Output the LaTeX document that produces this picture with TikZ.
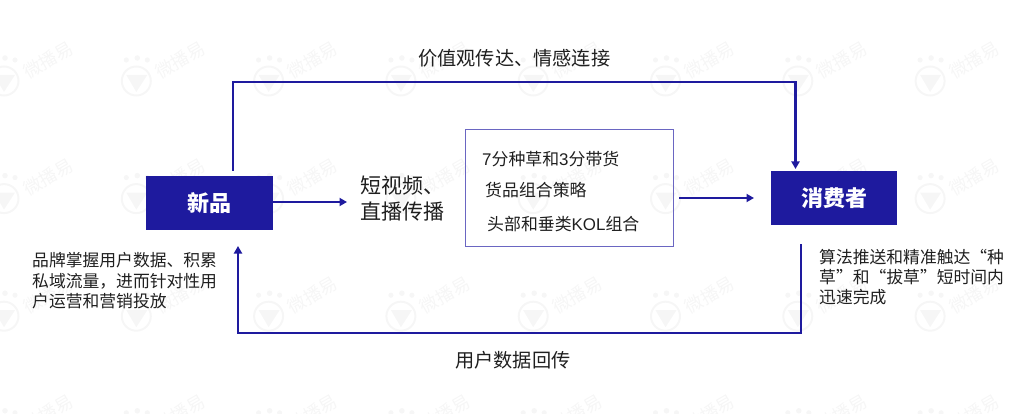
\documentclass[tikz,border=0pt]{standalone}
\usepackage{fontspec}
\setmainfont{Noto Sans CJK SC}
\newfontfamily\latinf{Liberation Sans}
\usetikzlibrary{arrows.meta}
\definecolor{navy}{HTML}{1E1A9E}
\definecolor{boxline}{HTML}{6A66C2}
\definecolor{wm}{HTML}{F6F6F6}
\tikzset{
  x=1pt,y=-1pt,
  fillbox/.style={fill=navy,text=white,font=\fontsize{22}{24}\selectfont\bfseries,inner sep=0pt,anchor=north west},
  flow/.style={draw=navy,line width=2.4pt,-{Triangle[length=7.5pt,width=8pt]}},
  lbl/.style={inner sep=0pt,text=black!88,anchor=west},
  big/.style={lbl,font=\fontsize{19.2}{23}\selectfont},
  small/.style={lbl,font=\fontsize{16.9}{20}\selectfont},
  para/.style={inner sep=0pt,text=black!88,anchor=north west,align=left,font=\fontsize{16.8}{20.2}\selectfont},
}
\begin{document}
\begin{tikzpicture}
\useasboundingbox (0,0) rectangle (1035,414);
\begin{scope}
\clip (0,0) rectangle (1035,414);
\foreach \cx [count=\i] in {3,135.3,267.6,399.9,532.2,664.5,796.8,929.1}{
 \foreach \cy [count=\j] in {82,199.6,317.2,434.8}{
  \begin{scope}[shift={(\cx,\cy)}]
   \draw[wm,line width=2pt] (1,-1) circle[radius=14.5];
   \fill[wm] (-9,-7) -- (12,-7) -- (1,10) -- cycle;
   \fill[wm] (-9,-22) circle[radius=2.6] (2,-24) circle[radius=2.8] (12,-22) circle[radius=2.6];
   \node[text=wm,inner sep=0pt,rotate=30,font=\fontsize{18}{18}\selectfont] (wm\i-\j) at (45,-22) {微播易};
  \end{scope}
 }
}
\end{scope}
\node[fillbox,minimum width=127pt,minimum height=54pt] (xp) at (146,176) {新品};
\node[fillbox,minimum width=126pt,minimum height=54pt] (xfz) at (771,171) {消费者};
\node[draw=boxline,line width=1.2pt,inner sep=0pt,minimum width=208pt,minimum height=117pt,anchor=north west] (mid) at (465,129) {};
\node[big] (top) at (418,58) {价值观传达、情感连接};
\node[big] (bot) at (455,360) {用户数据回传};
\node[lbl,font=\fontsize{21}{26.5}\selectfont,align=left] (sv) at (360,198.5) {短视频、\\直播传播};
\node[small] (l1) at (482,159.5) {{\latinf 7}分种草和{\latinf 3}分带货};
\node[small] (l2) at (485,190) {货品组合策略};
\node[small] (l3) at (487,224.5) {头部和垂类{\latinf KOL}组合};
\node[para] (pl) at (32,252.5) {品牌掌握用户数据、积累\\私域流量，进而针对性用\\户运营和营销投放};
\node[para] (pr) at (819,249) {算法推送和精准触达“种\\草”和“拔草”短时间内\\迅速完成};
\coordinate (a1) at (233,171);
\coordinate (a2) at (233,82);
\coordinate (a3) at (795.5,82);
\coordinate (a4) at (795.5,169);
\coordinate (b1) at (801,244);
\coordinate (b2) at (801,333);
\coordinate (b3) at (238,333);
\coordinate (b4) at (238,246);
\coordinate (c1) at (347,202);
\coordinate (d1) at (679,198);
\coordinate (d2) at (754,198);
\draw[flow] (a1) -- (a2) -- (a3) -- (a4);
\draw[flow] (b1) -- (b2) -- (b3) -- (b4);
\draw[flow] (xp.east |- c1) -- (c1);
\draw[flow] (d1) -- (d2);
\end{tikzpicture}
\end{document}
